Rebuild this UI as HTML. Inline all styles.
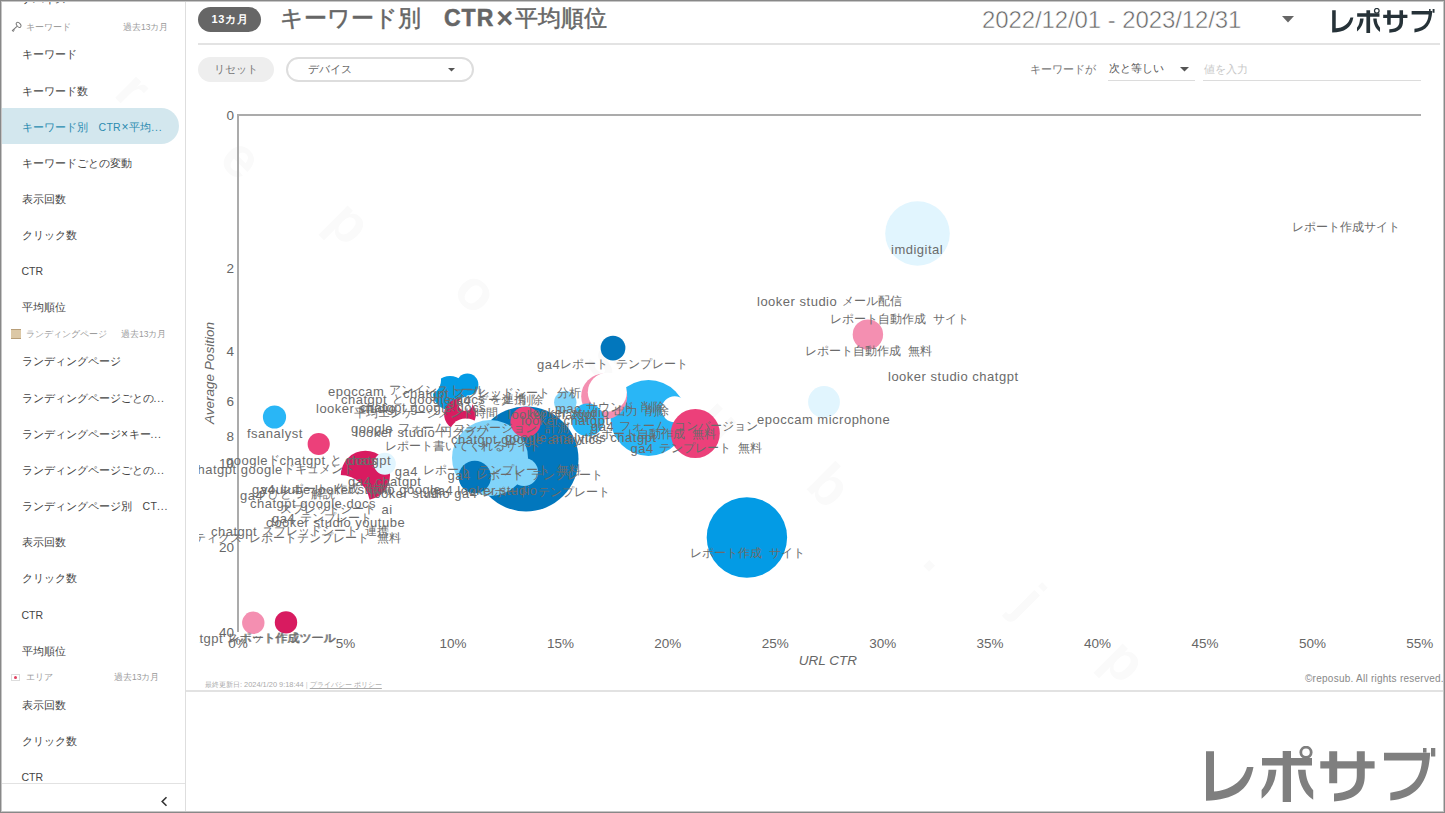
<!DOCTYPE html>
<html><head><meta charset="utf-8">
<style>
*{margin:0;padding:0;box-sizing:border-box}
html,body{width:1445px;height:813px;overflow:hidden;background:#fff;font-family:"Liberation Sans",sans-serif}
#frame{position:absolute;left:0;top:0;width:1445px;height:813px;border:1px solid #888;box-shadow:inset 0 0 0 1px #c6c6c6;pointer-events:none;z-index:50}
#side{position:absolute;left:0;top:0;width:186px;height:813px;border-right:1px solid #dedede;overflow:hidden;background:#fff}
.it{position:absolute;left:21.5px;font-size:10.5px;line-height:16px;color:#444;white-space:nowrap}
.it.act{color:#2b8bb0}
.el{letter-spacing:0.8px}
.lt{letter-spacing:0.3px}
.x{font-weight:normal;font-size:12px;margin:0 0.5px}
.hd{position:absolute;left:26px;font-size:8.5px;line-height:14px;color:#9a9a9a;white-space:nowrap}
.pill{position:absolute;left:0;width:179px;height:36px;background:#d3e7ee;border-radius:0 18px 18px 0}
#main{position:absolute;left:186px;top:0;width:1259px;height:813px}
.abs{position:absolute;white-space:nowrap}
</style></head><body>
<div id="side">
<div class="it" style="top:-9px">デバイス</div>
<div class="hd" style="top:20.0px">キーワード</div>
<div class="hd" style="top:20.0px;left:123px">過去13カ月</div>
<svg style="position:absolute;left:10px;top:21.0px" width="12" height="12" viewBox="0 0 12 12"><ellipse cx="8.6" cy="3.8" rx="2.9" ry="1.8" transform="rotate(50 8.6 3.8)" fill="none" stroke="#7a7a7a" stroke-width="1"/><path d="M7 5.3 L2 9.8 M2.2 9 L3.6 10.6 M3.3 8.2 L4.5 9.4" stroke="#7a7a7a" stroke-width="1.1" fill="none"/></svg>
<div class="it" style="top:46.3px">キーワード</div>
<div class="it" style="top:82.5px">キーワード数</div>
<div class="pill" style="top:108.0px"></div>
<div class="it act" style="top:118.8px">キーワード別　<span class="lt">CTR<b class="x">×</b></span>平均<span class="el">...</span></div>
<div class="it" style="top:154.8px">キーワードごとの変動</div>
<div class="it" style="top:190.8px">表示回数</div>
<div class="it" style="top:227.1px">クリック数</div>
<div class="it" style="top:263.3px">CTR</div>
<div class="it" style="top:299.3px">平均順位</div>
<div class="hd" style="top:326.7px">ランディングページ</div>
<div class="hd" style="top:326.7px;left:121px">過去13カ月</div>
<div style="position:absolute;left:11px;top:329.2px;width:9.5px;height:10px;background:#dcc8a6;border-top:1.5px solid #b89e78;border-bottom:1.5px solid #b89e78;box-sizing:border-box"></div>
<div class="it" style="top:353.3px">ランディングページ</div>
<div class="it" style="top:389.5px">ランディングページごとの<span class="el">...</span></div>
<div class="it" style="top:425.8px">ランディングページ<b class="x">×</b>キー<span class="el">...</span></div>
<div class="it" style="top:461.8px">ランディングページごとの<span class="el">...</span></div>
<div class="it" style="top:498.1px">ランディングページ別　<span class="lt">CT</span><span class="el">...</span></div>
<div class="it" style="top:534.3px">表示回数</div>
<div class="it" style="top:570.3px">クリック数</div>
<div class="it" style="top:606.5px">CTR</div>
<div class="it" style="top:642.6px">平均順位</div>
<div class="hd" style="top:670.0px">エリア</div>
<div class="hd" style="top:670.0px;left:114px">過去13カ月</div>
<div style="position:absolute;left:11px;top:673.5px;width:9px;height:7px;background:#fff;border:1px solid #ddd;box-sizing:border-box"></div><div style="position:absolute;left:14px;top:675.5px;width:3px;height:3px;border-radius:50%;background:#e04060"></div>
<div class="it" style="top:696.8px">表示回数</div>
<div class="it" style="top:733.1px">クリック数</div>
<div class="it" style="top:769.3px">CTR</div>
<div style="position:absolute;left:0;top:783px;width:186px;height:1px;background:#e2e2e2"></div>
<svg style="position:absolute;left:160px;top:796px" width="9" height="11" viewBox="0 0 9 11"><path d="M6.5 1.2 L2.2 5.5 L6.5 9.8" fill="none" stroke="#333" stroke-width="1.6"/></svg>
</div>

<!-- header -->
<div class="abs" style="left:198px;top:7px;width:63px;height:25px;border-radius:12.5px;background:#666;color:#fff;font-size:11px;font-weight:bold;line-height:25px;text-align:center;letter-spacing:0.7px;padding-left:1px">13カ月</div>
<div class="abs" style="left:280px;top:3px;font-size:23px;line-height:30px;color:#666;-webkit-text-stroke:0.5px #666">キーワード別　<b style="letter-spacing:1px">CTR</b><b style="font-size:29px;line-height:0;margin:0 2px 0 2px;-webkit-text-stroke:0;position:relative;top:2px">×</b>平均順位</div>
<div class="abs" style="left:982px;top:5px;font-size:24px;line-height:30px;color:#666;letter-spacing:-0.1px;-webkit-text-stroke:0.5px #fff">2022/12/01 - 2023/12/31</div>
<svg class="abs" style="left:1282px;top:16px" width="12" height="7"><path d="M0 0H12L6 6.5Z" fill="#666"/></svg>
<svg class="abs" style="left:1332px;top:7.5px;color:#263238" width="103" height="25" viewBox="0 -5 230 56"><g fill="#263238"><path d="M0 0.3H8V40.5C24 39 37 31 41 16H47.5C43 40 28 48.5 0 49.8Z"/>
<path d="M56 6.9H106V14.5H56Z M76.7 0H85V51H76.7Z M62.5 18.7H70.4C69.5 29 66.3 39 55.6 47.8V39C60.5 34 62 26 62.5 18.7Z M92 18.7H99.6C100 27 102 33 107.2 39.2V48.7C96 41 92.8 30 92 18.7Z"/>
<circle cx="100" cy="1.3" r="5.2" fill="none" stroke="currentColor" stroke-width="2.8"/>
<path d="M114.3 10.2H168.6V17.6H114.3Z M123.2 0.2H131.2V32.3H123.2Z M150.8 0.2H158.8V24C158.8 40 151 48.6 128 50.5V42.6C146 41 150.8 35 150.8 24Z"/>
<path d="M178 1.8H224.2C222.6 30 212 47 184.3 49.6V41.7C206 39 214.5 28 216 9.5H178Z M217 -3H220.5V1.5H217Z M225 -3H229.3V5.5H225Z"/></g></svg>
<div class="abs" style="left:198px;top:43px;width:1242px;height:2px;background:#e3e3e3"></div>

<!-- filters -->
<div class="abs" style="left:198px;top:57px;width:76px;height:25px;border-radius:12.5px;background:#eeeeee;color:#777;font-size:11px;line-height:25px;text-align:center">リセット</div>
<div class="abs" style="left:286px;top:57px;width:188px;height:25px;border-radius:12.5px;border:2px solid #dddddd;background:#fff"></div>
<div class="abs" style="left:308px;top:61px;font-size:11px;line-height:16px;color:#666">デバイス</div>
<svg class="abs" style="left:448px;top:67.5px" width="7" height="4"><path d="M0 0H7L3.5 3.5Z" fill="#555"/></svg>
<div class="abs" style="left:1030px;top:61px;font-size:11px;line-height:16px;color:#777">キーワードが</div>
<div class="abs" style="left:1109px;top:60px;font-size:11px;line-height:16px;color:#555">次と等しい</div>
<svg class="abs" style="left:1180px;top:67px" width="9" height="5"><path d="M0 0H9L4.5 4.5Z" fill="#555"/></svg>
<div class="abs" style="left:1108px;top:80px;width:87px;height:1px;background:#dcdcdc"></div>
<div class="abs" style="left:1204px;top:61px;font-size:11px;line-height:16px;color:#c8c8c8">値を入力</div>
<div class="abs" style="left:1203px;top:80px;width:218px;height:1px;background:#dcdcdc"></div>

<!-- chart -->
<svg class="abs" style="left:0;top:0" width="1445" height="813" viewBox="0 0 1445 813">
<defs><clipPath id="cc"><rect x="199" y="90" width="1244" height="600"/></clipPath></defs>
<g fill="#fafafa" font-size="56" font-weight="bold">
<text x="134" y="89" transform="rotate(45 134 89)" text-anchor="middle" dominant-baseline="central">r</text>
<text x="242" y="158" transform="rotate(45 242 158)" text-anchor="middle" dominant-baseline="central">e</text>
<text x="350" y="222" transform="rotate(45 350 222)" text-anchor="middle" dominant-baseline="central">p</text>
<text x="477" y="291" transform="rotate(45 477 291)" text-anchor="middle" dominant-baseline="central">o</text>
<text x="608" y="360" transform="rotate(45 608 360)" text-anchor="middle" dominant-baseline="central">s</text>
<text x="720" y="420" transform="rotate(45 720 420)" text-anchor="middle" dominant-baseline="central">u</text>
<text x="830" y="485" transform="rotate(45 830 485)" text-anchor="middle" dominant-baseline="central">b</text>
<text x="940" y="555" transform="rotate(45 940 555)" text-anchor="middle" dominant-baseline="central">.</text>
<text x="1030" y="600" transform="rotate(45 1030 600)" text-anchor="middle" dominant-baseline="central">j</text>
<text x="1125" y="660" transform="rotate(45 1125 660)" text-anchor="middle" dominant-baseline="central">p</text>
</g>
<g clip-path="url(#cc)">
<rect x="237" y="114" width="2" height="518" fill="#ababab"/>
<rect x="237" y="114" width="1184" height="2" fill="#ababab"/>
<g fill="#666" font-size="13.5" text-anchor="end">
<text x="234" y="120">0</text>
<text x="234" y="273">2</text>
<text x="234" y="356">4</text>
<text x="234" y="406">6</text>
<text x="234" y="441">8</text>
<text x="234" y="468">10</text>
<text x="234" y="552">20</text>
<text x="234" y="637">40</text>
</g>
<text x="209" y="373" transform="rotate(-90 209 373)" text-anchor="middle" dominant-baseline="central" font-size="13.5" font-style="italic" fill="#666">Average Position</text>
<g fill="#666" font-size="13.5" text-anchor="middle">
<text x="238" y="648">0%</text><text x="345.5" y="648">5%</text><text x="453" y="648">10%</text><text x="560.4" y="648">15%</text>
<text x="667.8" y="648">20%</text><text x="775.3" y="648">25%</text><text x="882.7" y="648">30%</text><text x="990" y="648">35%</text>
<text x="1097.5" y="648">40%</text><text x="1205" y="648">45%</text><text x="1312.4" y="648">50%</text><text x="1419.8" y="648">55%</text>
</g>
<text x="828" y="665" text-anchor="middle" font-size="13.5" font-style="italic" fill="#666">URL CTR</text>
<circle cx="450" cy="393" r="17" fill="#039be5"/>
<circle cx="467.4" cy="384.5" r="11" fill="#039be5"/>
<circle cx="425" cy="380" r="16" fill="#ffffff"/>
<circle cx="460" cy="414.3" r="15.9" fill="#d81b60"/>
<circle cx="465.5" cy="404" r="7" fill="#ffffff"/>
<circle cx="466" cy="436" r="17.5" fill="#ffffff"/>
<circle cx="526" cy="459" r="52.5" fill="#0277bd"/>
<circle cx="490" cy="458" r="38" fill="#81d4fa"/>
<circle cx="524" cy="472" r="14" fill="#81d4fa"/>
<circle cx="474.8" cy="477" r="16.2" fill="#0277bd"/>
<circle cx="525.6" cy="422" r="15.2" fill="#ec407a"/>
<circle cx="746.9" cy="537.5" r="40.2" fill="#039be5"/>
<circle cx="917.5" cy="233.5" r="32.3" fill="#e1f5fe"/>
<circle cx="867.9" cy="334.6" r="15.2" fill="#f48fb1"/>
<circle cx="824" cy="402" r="15.9" fill="#e1f5fe"/>
<circle cx="274.5" cy="417" r="11.6" fill="#29b6f6"/>
<circle cx="318.7" cy="444" r="11.1" fill="#ec407a"/>
<circle cx="365.4" cy="475.3" r="24.6" fill="#d81b60"/>
<circle cx="340" cy="505" r="30" fill="#ffffff"/>
<circle cx="384.8" cy="463.8" r="11" fill="#e1f5fe"/>
<circle cx="253.3" cy="622.8" r="11.2" fill="#f48fb1"/>
<circle cx="286" cy="622.4" r="11.2" fill="#d81b60"/>
<circle cx="613" cy="348.1" r="12.4" fill="#0277bd"/>
<circle cx="648.5" cy="418" r="38" fill="#29b6f6"/>
<circle cx="674.7" cy="409.2" r="13" fill="#ffffff"/>
<circle cx="695.3" cy="433.5" r="24.5" fill="#ec407a"/>
<circle cx="604.2" cy="396.4" r="23" fill="#f48fb1"/>
<circle cx="607.3" cy="392.3" r="19.5" fill="#ffffff"/>
<circle cx="565.3" cy="402.3" r="11.2" fill="#81d4fa"/>
<circle cx="587.7" cy="420" r="16.4" fill="#29b6f6"/>
<g fill="#6b6b6b">
<text x="1292" y="230.8" text-anchor="start"><tspan font-size="12">レポート作成サイト</tspan></text>
<text x="891" y="254.0" text-anchor="start"><tspan font-size="13" letter-spacing="0.5">imdigital</tspan></text>
<text x="757" y="306.0" text-anchor="start"><tspan font-size="13" letter-spacing="0.5">looker</tspan><tspan font-size="13" letter-spacing="0.5">&#160;studio</tspan><tspan font-size="12" dx="1.5" dy="-1.2">&#160;メール配信</tspan></text>
<text x="830" y="322.8" text-anchor="start"><tspan font-size="12">レポート自動作成</tspan><tspan font-size="12" dx="4">&#160;サイト</tspan></text>
<text x="805" y="354.8" text-anchor="start"><tspan font-size="12">レポート自動作成</tspan><tspan font-size="12" dx="4">&#160;無料</tspan></text>
<text x="888" y="381.0" text-anchor="start"><tspan font-size="13" letter-spacing="0.5">looker</tspan><tspan font-size="13" letter-spacing="0.5">&#160;studio</tspan><tspan font-size="13" letter-spacing="0.5">&#160;chatgpt</tspan></text>
<text x="757" y="424.0" text-anchor="start"><tspan font-size="13" letter-spacing="0.5">epoccam</tspan><tspan font-size="13" letter-spacing="0.5">&#160;microphone</tspan></text>
<text x="537" y="369.0" text-anchor="start"><tspan font-size="13" letter-spacing="0.5">ga4</tspan><tspan font-size="12" dy="-1.2">レポート</tspan><tspan font-size="12" dx="4">&#160;テンプレート</tspan></text>
<text x="690" y="557.3" text-anchor="start"><tspan font-size="12">レポート作成</tspan><tspan font-size="12" dx="4">&#160;サイト</tspan></text>
<text x="247" y="438.0" text-anchor="start"><tspan font-size="13" letter-spacing="0.5">fsanalyst</tspan></text>
<text x="328" y="395.5" text-anchor="start"><tspan font-size="13" letter-spacing="0.5">epoccam</tspan><tspan font-size="12" dx="1.5" dy="-1.2">&#160;アンインストール</tspan></text>
<text x="403" y="398.0" text-anchor="start"><tspan font-size="13" letter-spacing="0.5">chatgpt</tspan><tspan font-size="12" dx="1.5" dy="-1.2">&#160;スプレッドシート</tspan><tspan font-size="12" dx="4">&#160;分析</tspan></text>
<text x="341" y="404.3" text-anchor="start"><tspan font-size="13" letter-spacing="0.5">chatgpt</tspan><tspan font-size="12" dx="1.5" dy="-1.2">&#160;と</tspan><tspan font-size="13" letter-spacing="0.5" dx="1.5" dy="1.2">&#160;google</tspan><tspan font-size="13" letter-spacing="0.5">&#160;docs</tspan><tspan font-size="12" dx="1.5" dy="-1.2">&#160;を連携</tspan></text>
<text x="448" y="405.4" text-anchor="start"><tspan font-size="13" letter-spacing="0.5">ga4</tspan><tspan font-size="12" dx="1.5" dy="-1.2">&#160;データ</tspan><tspan font-size="12" dx="4">&#160;削除</tspan></text>
<text x="316" y="413.0" text-anchor="start"><tspan font-size="13" letter-spacing="0.5">looker</tspan><tspan font-size="13" letter-spacing="0.5">&#160;studio</tspan></text>
<text x="360" y="412.4" text-anchor="start"><tspan font-size="13" letter-spacing="0.5">chatgpt</tspan><tspan font-size="13" letter-spacing="0.5">&#160;google</tspan><tspan font-size="13" letter-spacing="0.5">&#160;docs</tspan></text>
<text x="354" y="417.4" text-anchor="start"><tspan font-size="12">平均エンゲージメント時間</tspan></text>
<text x="508" y="419.0" text-anchor="start"><tspan font-size="13" letter-spacing="0.5">looker</tspan><tspan font-size="13" letter-spacing="0.5">&#160;chatgpt</tspan></text>
<text x="555" y="412.5" text-anchor="start"><tspan font-size="13" letter-spacing="0.5">mac</tspan><tspan font-size="12" dx="1.5" dy="-1.2">&#160;サウンド</tspan><tspan font-size="12" dx="4">&#160;削除</tspan></text>
<text x="529" y="416.6" text-anchor="start"><tspan font-size="13" letter-spacing="0.5">looker</tspan><tspan font-size="13" letter-spacing="0.5">&#160;studio</tspan><tspan font-size="12" dx="1.5" dy="-1.2">&#160;出力</tspan><tspan font-size="12" dx="4">&#160;削除</tspan></text>
<text x="521" y="425.4" text-anchor="start"><tspan font-size="13" letter-spacing="0.5">looker</tspan><tspan font-size="13" letter-spacing="0.5">&#160;chatgpt</tspan></text>
<text x="351" y="433.0" text-anchor="start"><tspan font-size="13" letter-spacing="0.5">google</tspan><tspan font-size="12" dx="1.5" dy="-1.2">&#160;フォーム</tspan><tspan font-size="12" dx="4">&#160;コンバージョン</tspan><tspan font-size="12" dx="4">&#160;計測</tspan></text>
<text x="355" y="437.0" text-anchor="start"><tspan font-size="13" letter-spacing="0.5">looker</tspan><tspan font-size="13" letter-spacing="0.5">&#160;studio</tspan><tspan font-size="12" dx="1.5" dy="-1.2">&#160;円グラフ</tspan></text>
<text x="591" y="430.7" text-anchor="start"><tspan font-size="13" letter-spacing="0.5">ga4</tspan><tspan font-size="12" dx="1.5" dy="-1.2">&#160;フォーム</tspan><tspan font-size="12" dx="4">&#160;コンバージョン</tspan></text>
<text x="589" y="437.8" text-anchor="start"><tspan font-size="12">レポート自動作成</tspan><tspan font-size="12" dx="4">&#160;無料</tspan></text>
<text x="505" y="441.5" text-anchor="start"><tspan font-size="13" letter-spacing="0.5">google</tspan><tspan font-size="13" letter-spacing="0.5">&#160;analytics</tspan><tspan font-size="13" letter-spacing="0.5">&#160;chatgpt</tspan></text>
<text x="451" y="443.8" text-anchor="start"><tspan font-size="13" letter-spacing="0.5">chatgpt</tspan><tspan font-size="13" letter-spacing="0.5">&#160;google</tspan><tspan font-size="13" letter-spacing="0.5">&#160;analytics</tspan></text>
<text x="385" y="449.8" text-anchor="start"><tspan font-size="12">レポート書いてくれるサイト</tspan></text>
<text x="630.5" y="453.0" text-anchor="start"><tspan font-size="13" letter-spacing="0.5">ga4</tspan><tspan font-size="12" dx="1.5" dy="-1.2">&#160;テンプレート</tspan><tspan font-size="12" dx="4">&#160;無料</tspan></text>
<text x="226" y="465.0" text-anchor="start"><tspan font-size="13" letter-spacing="0.5">google</tspan><tspan font-size="12" dy="-1.2">ド</tspan></text>
<text x="279.5" y="465.0" text-anchor="start"><tspan font-size="13" letter-spacing="0.5">chatgpt</tspan><tspan font-size="12" dx="1.5" dy="-1.2">&#160;と</tspan><tspan font-size="13" letter-spacing="0.5" dx="1.5" dy="1.2">&#160;docs</tspan></text>
<text x="345" y="465.0" text-anchor="start"><tspan font-size="13" letter-spacing="0.5">chatgpt</tspan></text>
<text x="190.5" y="474.0" text-anchor="start"><tspan font-size="13" letter-spacing="0.5">chatgpt</tspan><tspan font-size="13" letter-spacing="0.5">&#160;google</tspan><tspan font-size="12" dy="-1.2">ドキュメント</tspan></text>
<text x="394.7" y="475.6" text-anchor="start"><tspan font-size="13" letter-spacing="0.5">ga4</tspan><tspan font-size="12" dx="1.5" dy="-1.2">&#160;レポート</tspan><tspan font-size="12" dx="4">&#160;テンプレート</tspan><tspan font-size="12" dx="4">&#160;無料</tspan></text>
<text x="447.5" y="480.0" text-anchor="start"><tspan font-size="13" letter-spacing="0.5">ga4</tspan><tspan font-size="12" dx="1.5" dy="-1.2">&#160;レポート</tspan><tspan font-size="12" dx="4">&#160;テンプレート</tspan></text>
<text x="348" y="485.5" text-anchor="start"><tspan font-size="13" letter-spacing="0.5">ga4</tspan><tspan font-size="13" letter-spacing="0.5">&#160;chatgpt</tspan></text>
<text x="252" y="493.8" text-anchor="start"><tspan font-size="13" letter-spacing="0.5">ga4</tspan><tspan font-size="12" dx="1.5" dy="-1.2">&#160;レポート</tspan><tspan font-size="12" dx="4">&#160;作成</tspan><tspan font-size="12" dx="4">&#160;時間</tspan></text>
<text x="261" y="493.8" text-anchor="start"><tspan font-size="13" letter-spacing="0.5">youtube</tspan><tspan font-size="13" letter-spacing="0.5">&#160;looker</tspan><tspan font-size="13" letter-spacing="0.5">&#160;studio</tspan><tspan font-size="13" letter-spacing="0.5">&#160;google</tspan></text>
<text x="430" y="494.6" text-anchor="start"><tspan font-size="13" letter-spacing="0.5">ga4</tspan><tspan font-size="13" letter-spacing="0.5">&#160;looker</tspan><tspan font-size="13" letter-spacing="0.5">&#160;studio</tspan></text>
<text x="370" y="497.5" text-anchor="start"><tspan font-size="13" letter-spacing="0.5">looker</tspan><tspan font-size="13" letter-spacing="0.5">&#160;studio</tspan><tspan font-size="13" letter-spacing="0.5">&#160;ga4</tspan><tspan font-size="12" dx="1.5" dy="-1.2">&#160;レポート</tspan><tspan font-size="12" dx="4">&#160;テンプレート</tspan></text>
<text x="240" y="499.6" text-anchor="start"><tspan font-size="13" letter-spacing="0.5">ga4</tspan><tspan font-size="12" dx="1.5" dy="-1.2">&#160;ひとつ</tspan><tspan font-size="12" dx="4">&#160;解説</tspan></text>
<text x="250" y="508.0" text-anchor="start"><tspan font-size="13" letter-spacing="0.5">chatgpt</tspan><tspan font-size="13" letter-spacing="0.5">&#160;google</tspan><tspan font-size="13" letter-spacing="0.5">&#160;docs</tspan></text>
<text x="280" y="512.5" text-anchor="start"><tspan font-size="12">スプレッドシート</tspan><tspan font-size="13" letter-spacing="0.5" dx="1.5" dy="1.2">&#160;ai</tspan></text>
<text x="272" y="523.0" text-anchor="start"><tspan font-size="13" letter-spacing="0.5">ga4</tspan><tspan font-size="12" dx="1.5" dy="-1.2">&#160;テンプレート</tspan></text>
<text x="271" y="527.0" text-anchor="start"><tspan font-size="13" letter-spacing="0.5">looker</tspan><tspan font-size="13" letter-spacing="0.5">&#160;studio</tspan><tspan font-size="13" letter-spacing="0.5">&#160;youtube</tspan></text>
<text x="266" y="527.0" text-anchor="start"><tspan font-size="13" letter-spacing="0.5">c</tspan></text>
<text x="211" y="536.0" text-anchor="start"><tspan font-size="13" letter-spacing="0.5">chatgpt</tspan><tspan font-size="12" dx="1.5" dy="-1.2">&#160;スプレッドシート</tspan><tspan font-size="12" dx="4">&#160;連携</tspan></text>
<text x="110" y="542.4" text-anchor="start"><tspan font-size="12">グーグルアナリティクス</tspan><tspan font-size="12" dx="4">&#160;レポートテンプレート</tspan><tspan font-size="12" dx="4">&#160;無料</tspan></text>
<text x="177" y="643.0" text-anchor="start"><tspan font-size="13" letter-spacing="0.5">chatgpt</tspan><tspan font-size="12" dx="1.5" dy="-1.2">&#160;レポート作成ツール</tspan></text>
<text x="227" y="641.8" text-anchor="start"><tspan font-size="12">スポット作成ツール</tspan></text>
</g>
</g>
</svg>

<!-- footer -->
<div class="abs" style="left:205px;top:679px;font-size:7.4px;line-height:11px;color:#aaa">最終更新日: 2024/1/20 9:18:44 <span style="color:#ccc">|</span> <span style="text-decoration:underline">プライバシー ポリシー</span></div>
<div class="abs" style="left:1305px;top:673px;font-size:10px;line-height:12px;color:#888;letter-spacing:0.25px">©reposub. All rights reserved.</div>
<div class="abs" style="left:186px;top:690px;width:1257px;height:2px;background:#e2e2e2"></div>
<svg class="abs" style="left:1206px;top:746px" width="230" height="56" viewBox="0 -5 230 56"><g fill="#7f7f7f" color="#7f7f7f"><path d="M0 0.3H8V40.5C24 39 37 31 41 16H47.5C43 40 28 48.5 0 49.8Z"/>
<path d="M56 6.9H106V14.5H56Z M76.7 0H85V51H76.7Z M62.5 18.7H70.4C69.5 29 66.3 39 55.6 47.8V39C60.5 34 62 26 62.5 18.7Z M92 18.7H99.6C100 27 102 33 107.2 39.2V48.7C96 41 92.8 30 92 18.7Z"/>
<circle cx="100" cy="1.3" r="5.2" fill="none" stroke="currentColor" stroke-width="2.8"/>
<path d="M114.3 10.2H168.6V17.6H114.3Z M123.2 0.2H131.2V32.3H123.2Z M150.8 0.2H158.8V24C158.8 40 151 48.6 128 50.5V42.6C146 41 150.8 35 150.8 24Z"/>
<path d="M178 1.8H224.2C222.6 30 212 47 184.3 49.6V41.7C206 39 214.5 28 216 9.5H178Z M217 -3H220.5V1.5H217Z M225 -3H229.3V5.5H225Z"/></g></svg>
<div id="frame"></div>
</body></html>
